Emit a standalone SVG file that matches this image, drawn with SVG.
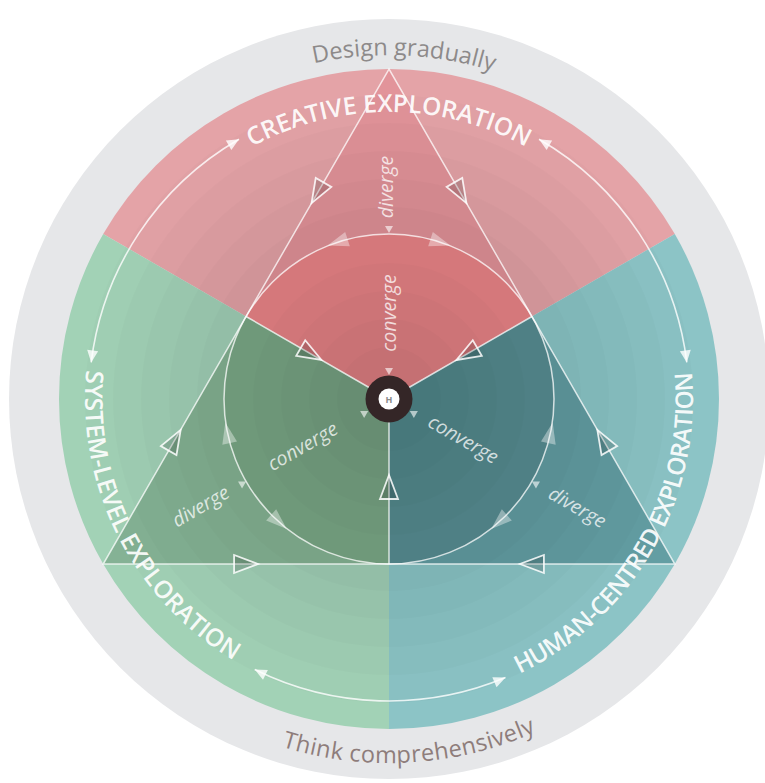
<svg xmlns="http://www.w3.org/2000/svg" width="765" height="783" viewBox="0 0 765 783">
  <defs>
    <style>
      .lbl { font-family: "Open Sans", "Noto Sans", "DejaVu Sans", sans-serif; }
      .band { font-size: 24.5px; font-weight: 600; fill: #ffffff; fill-opacity: 0.92; }
      .motto { font-size: 23.5px; font-weight: 400; }
      .verb { font-size: 19.5px; font-style: italic; fill: #ffffff; fill-opacity: 0.75; text-anchor: middle; }
      .edge { fill: none; stroke: #ffffff; stroke-opacity: 0.75; stroke-width: 1.5; }
      .hollow { fill: #000000; fill-opacity: 0.14; stroke: #ffffff; stroke-opacity: 0.85; stroke-width: 1.8; stroke-linejoin: miter; }
      .solid { fill: #ffffff; fill-opacity: 0.38; }
      .tick { fill: #ffffff; fill-opacity: 0.6; }
      .loop { fill: none; stroke: #ffffff; stroke-opacity: 0.8; stroke-width: 1.6; }
      .ring { fill: #000000; fill-opacity: 0.015; }
    </style>
    <!-- open arrowhead placed on the triangle and spokes, pointing along +x -->
    <path id="hollowHead" d="M12 0 L-12 -9 L-12 9 Z"/>
    <!-- translucent arrowhead on the inner circle -->
    <path id="solidHead" d="M11 0 L-10 -7.5 L-10 7.5 Z"/>
    <!-- small pointer next to the verb labels, tip at the origin -->
    <path id="tickHead" d="M0 0 L-7 -4 L-7 4 Z"/>
    <marker id="loopEnd" viewBox="-13 -7 14 14" markerWidth="14" markerHeight="14" refX="0" refY="0" orient="auto-start-reverse" markerUnits="userSpaceOnUse">
      <path d="M0 0 L-12 -5.5 L-12 5.5 Z" fill="#ffffff" fill-opacity="0.8"/>
    </marker>
    <!-- text baselines -->
    <path id="creativeArc" d="M102 399 A287 287 0 0 1 676 399"/>
    <path id="sideArc" d="M389 95 A304 304 0 0 0 389 703 A304 304 0 0 0 389 95"/>
    <path id="mottoTopArc" d="M45 399 A344 344 0 0 1 733 399"/>
    <path id="mottoBottomArc" d="M25 399 A364 364 0 0 0 753 399"/>
  </defs>

  <rect width="765" height="783" fill="#ffffff"/>

  <!-- outer grey ring -->
  <circle cx="389" cy="399" r="380" fill="#e6e7e9"/>

  <!-- creative exploration sector -->
  <g id="creative">
    <path d="M389 399 L674.79 234 A330 330 0 0 0 103.21 234 Z" fill="#e4a3a7"/>
    <path d="M389 399 L531.9 316.5 L389 69 L246.1 316.5 Z" fill="#e2949a"/>
    <path d="M389 399 L531.89 316.5 A165 165 0 0 0 246.11 316.5 Z" fill="#e98388"/>
  </g>

  <!-- system-level exploration sector -->
  <g id="system">
    <path d="M389 399 L103.21 234 A330 330 0 0 0 389 729 Z" fill="#a2d2b6"/>
    <path d="M389 399 L246.1 316.5 L103.21 564 L389 564 Z" fill="#85b295"/>
    <path d="M389 399 L246.11 316.5 A165 165 0 0 0 389 564 Z" fill="#79a886"/>
  </g>

  <!-- human-centred exploration sector -->
  <g id="human">
    <path d="M389 399 L389 729 A330 330 0 0 0 674.79 234 Z" fill="#8cc4c6"/>
    <path d="M389 399 L389 564 L674.79 564 L531.9 316.5 Z" fill="#639ea3"/>
    <path d="M389 399 L389 564 A165 165 0 0 0 531.89 316.5 Z" fill="#598f94"/>
  </g>

  <!-- concentric shading bands -->
  <g id="bands">
    <circle class="ring" cx="389" cy="399" r="304"/>
    <circle class="ring" cx="389" cy="399" r="276"/>
    <circle class="ring" cx="389" cy="399" r="248"/>
    <circle class="ring" cx="389" cy="399" r="220"/>
    <circle class="ring" cx="389" cy="399" r="192"/>
    <circle class="ring" cx="389" cy="399" r="136"/>
    <circle class="ring" cx="389" cy="399" r="108"/>
    <circle class="ring" cx="389" cy="399" r="80"/>
    <circle class="ring" cx="389" cy="399" r="52"/>
  </g>

  <!-- connectors -->
  <g id="connectors">
    <polygon class="edge" points="389,69 103.21,564 674.79,564"/>
    <circle class="edge" cx="389" cy="399" r="165" stroke-opacity="0.6" stroke-width="1.3"/>
    <path class="edge" d="M389 399 L246.1 316.5 M389 399 L531.9 316.5 M389 399 L389 564"/>

    <use href="#hollowHead" class="hollow" transform="translate(317.55 192.75) rotate(120)"/>
    <use href="#hollowHead" class="hollow" transform="translate(174.66 440.25) rotate(-60)"/>
    <use href="#hollowHead" class="hollow" transform="translate(460.45 192.75) rotate(60)"/>
    <use href="#hollowHead" class="hollow" transform="translate(603.34 440.25) rotate(-120)"/>
    <use href="#hollowHead" class="hollow" transform="translate(246.1 564) rotate(0)"/>
    <use href="#hollowHead" class="hollow" transform="translate(531.9 564) rotate(180)"/>
    <use href="#hollowHead" class="hollow" transform="translate(311.1 354) rotate(30)"/>
    <use href="#hollowHead" class="hollow" transform="translate(466.9 354) rotate(150)"/>
    <use href="#hollowHead" class="hollow" transform="translate(389 487) rotate(-90)"/>

    <use href="#solidHead" class="solid" transform="translate(338 242.1) rotate(162)"/>
    <use href="#solidHead" class="solid" transform="translate(440 242.1) rotate(18)"/>
    <use href="#solidHead" class="solid" transform="translate(227.6 433.3) rotate(-102)"/>
    <use href="#solidHead" class="solid" transform="translate(278.6 521.6) rotate(42)"/>
    <use href="#solidHead" class="solid" transform="translate(550.4 433.3) rotate(-78)"/>
    <use href="#solidHead" class="solid" transform="translate(499.4 521.6) rotate(138)"/>

    <use href="#tickHead" class="tick" transform="translate(389 233) rotate(90)"/>
    <use href="#tickHead" class="tick" transform="translate(246.1 481.5) rotate(-30)"/>
    <use href="#tickHead" class="tick" transform="translate(531.9 481.5) rotate(210)"/>
    <use href="#tickHead" class="tick" transform="translate(389 375) rotate(90)"/>
    <use href="#tickHead" class="tick" transform="translate(368.2 411) rotate(-30)"/>
    <use href="#tickHead" class="tick" transform="translate(409.8 411) rotate(210)"/>

    <path class="loop" d="M239 139.2 A300 300 0 0 0 91.2 362.4" marker-start="url(#loopEnd)" marker-end="url(#loopEnd)"/>
    <path class="loop" d="M539 139.2 A300 300 0 0 1 686.8 362.4" marker-start="url(#loopEnd)" marker-end="url(#loopEnd)"/>
    <path class="loop" d="M254.7 669.5 A302 302 0 0 0 505.5 677.6" marker-start="url(#loopEnd)" marker-end="url(#loopEnd)"/>
  </g>

  <!-- hub -->
  <g id="hub">
    <circle cx="389" cy="399" r="23.5" fill="#342627"/>
    <circle cx="389" cy="399" r="10.5" fill="#ffffff"/>
    <text class="lbl" x="389" y="402.5" font-size="9" font-weight="700" fill="#8a8a8a" text-anchor="middle">H</text>
  </g>

  <!-- band titles -->
  <g id="band-titles" class="lbl band">
    <text><textPath href="#creativeArc" startOffset="50%" text-anchor="middle">CREATIVE EXPLORATION</textPath></text>
    <text><textPath href="#sideArc" startOffset="620" text-anchor="middle">SYSTEM-LEVEL EXPLORATION</textPath></text>
    <text letter-spacing="-0.7"><textPath href="#sideArc" startOffset="1274" text-anchor="middle">HUMAN-CENTRED EXPLORATION</textPath></text>
  </g>

  <!-- ring mottos -->
  <g id="mottos" class="lbl motto">
    <text fill="#8d8a8a"><textPath href="#mottoTopArc" startOffset="555" text-anchor="middle">Design gradually</textPath></text>
    <text fill="#8e7d7b" letter-spacing="0.4"><textPath href="#mottoBottomArc" startOffset="593" text-anchor="middle">Think comprehensively</textPath></text>
  </g>

  <!-- converge / diverge labels -->
  <g id="verbs" class="lbl verb">
    <text transform="translate(390 313) rotate(-90)" dy="0.3em">converge</text>
    <text transform="translate(387 187) rotate(-90)" dy="0.3em">diverge</text>
    <text transform="translate(303 447) rotate(-30)" dy="0.3em">converge</text>
    <text transform="translate(201 507) rotate(-30)" dy="0.3em">diverge</text>
    <text transform="translate(463 440) rotate(30)" dy="0.3em">converge</text>
    <text transform="translate(577 508) rotate(30)" dy="0.3em">diverge</text>
  </g>
</svg>
